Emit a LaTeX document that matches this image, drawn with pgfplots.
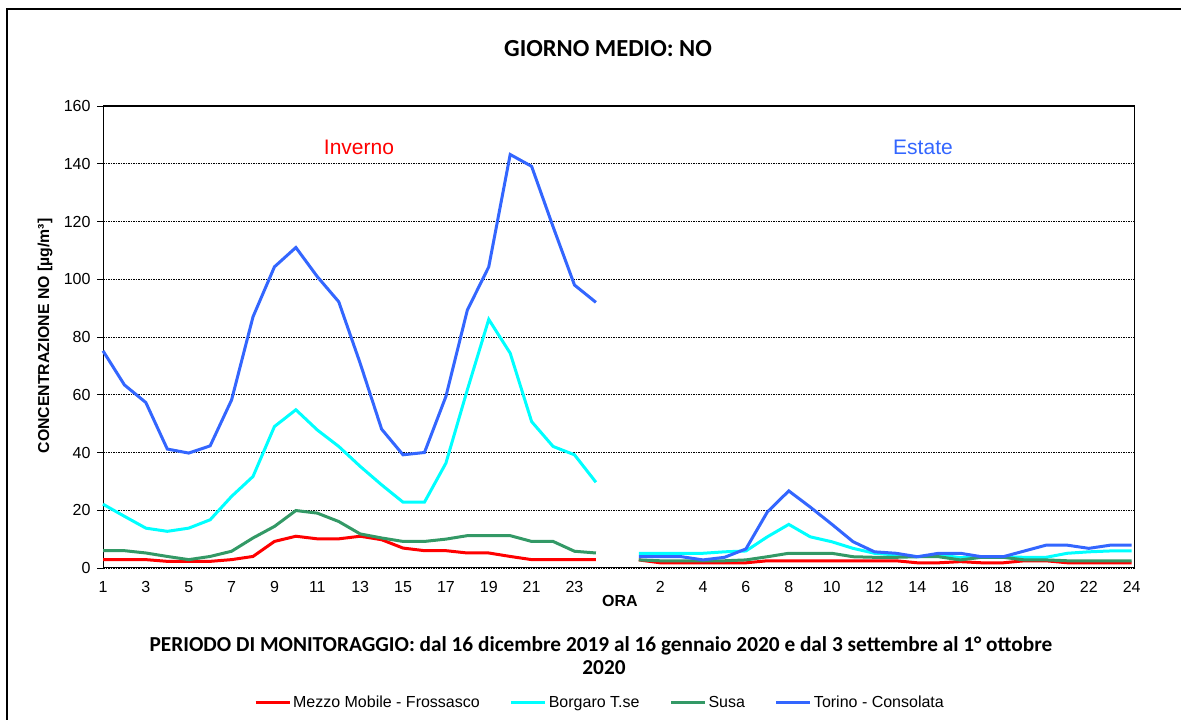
\documentclass[border=0pt]{standalone}
\usepackage{pgfplots}
\pgfplotsset{compat=1.18}
\usepackage{fontspec}
\setmainfont{Liberation Sans}
\newfontfamily\calfont{Carlito}
\definecolor{cRed}{RGB}{255,0,0}
\definecolor{cCyan}{RGB}{0,255,255}
\definecolor{cGreen}{RGB}{51,153,102}
\definecolor{cBlue}{RGB}{51,102,255}
\begin{document}
\begin{tikzpicture}
\path[use as bounding box] (0pt,0pt) rectangle (1181pt,720pt);
\draw[black, line width=1.2pt] (7pt,-20pt) -- (7pt,711pt) -- (1200pt,711pt);
\begin{axis}[
  at={(103pt,152pt)}, anchor=south west,
  width=1031.7pt, height=462pt, scale only axis,
  xmin=0, xmax=48.14, ymin=0, ymax=160,
  ytick={0,20,...,160},
  xtick={0,2,...,48},
  xticklabels={1,3,5,7,9,11,13,15,17,19,21,23,{},2,4,6,8,10,12,14,16,18,20,22,24},
  x tick style={draw=none},
  y tick style={black, line width=0.8pt},
  ytick pos=left, xtick pos=bottom,
  tick align=outside,
  major tick length=6pt,
  ymajorgrids,
  grid style={black, line width=0.6pt, dash pattern=on 1.5pt off 1pt},
  axis line style={black, line width=1pt},
  tick label style={font=\fontsize{16}{19}\selectfont, text=black},
  /pgf/number format/assume math mode=true,
  yticklabel style={xshift=-3pt},
  xticklabel style={yshift=-4pt},
  unbounded coords=jump,
  clip=false,
  legend style={at={(axis description cs:0.4817,-0.292)}, anchor=center, draw=none, fill=none,
    font=\fontsize{16}{19}\selectfont, legend columns=4,
    /tikz/every even column/.append style={column sep=28pt}},
  legend image code/.code={\draw[#1, line width=3pt] (0pt,0pt) -- (34pt,0pt);},
]
\addplot[cRed, line width=3pt] coordinates {
(0,2.9)(1,2.9)(2,2.9)(3,2.3)(4,2.3)(5,2.3)(6,2.9)(7,4.0)(8,9.2)(9,11.0)(10,10.1)(11,10.1)
(12,11.0)(13,9.8)(14,6.9)(15,6.0)(16,6.0)(17,5.2)(18,5.2)(19,4.0)(20,2.9)(21,2.9)(22,2.9)(23,2.9)
(24,nan)
(25,2.8)(26,1.8)(27,1.8)(28,1.8)(29,1.8)(30,1.8)(31,2.5)(32,2.5)(33,2.5)(34,2.5)(35,2.5)(36,2.5)
(37,2.5)(38,1.8)(39,1.8)(40,2.2)(41,1.8)(42,1.8)(43,2.5)(44,2.5)(45,1.8)(46,1.8)(47,1.8)(48,1.8)};
\addlegendentry{Mezzo Mobile - Frossasco}
\addplot[cCyan, line width=3pt] coordinates {
(0,22.1)(1,17.9)(2,13.8)(3,12.7)(4,13.8)(5,16.7)(6,24.8)(7,31.7)(8,49.0)(9,54.8)(10,47.8)(11,42.1)
(12,35.2)(13,28.8)(14,22.8)(15,22.8)(16,36.3)(17,61.7)(18,86.1)(19,74.4)(20,50.7)(21,42.1)(22,39.2)(23,29.7)
(24,nan)
(25,5.1)(26,5.1)(27,5.1)(28,5.1)(29,5.6)(30,5.9)(31,10.8)(32,15.1)(33,10.8)(34,9.1)(35,6.8)(36,5.1)
(37,4.5)(38,3.9)(39,4.5)(40,3.6)(41,3.9)(42,3.9)(43,3.7)(44,3.7)(45,5.1)(46,5.6)(47,5.9)(48,5.9)};
\addlegendentry{Borgaro T.se}
\addplot[cGreen, line width=3pt] coordinates {
(0,6.0)(1,6.0)(2,5.2)(3,4.0)(4,2.9)(5,4.0)(6,5.8)(7,10.4)(8,14.4)(9,19.9)(10,19.0)(11,16.1)
(12,11.8)(13,10.4)(14,9.2)(15,9.2)(16,10.0)(17,11.2)(18,11.2)(19,11.2)(20,9.2)(21,9.2)(22,5.8)(23,5.2)
(24,nan)
(25,2.8)(26,2.5)(27,2.5)(28,2.5)(29,2.5)(30,2.8)(31,3.9)(32,5.1)(33,5.1)(34,5.1)(35,3.9)(36,3.7)
(37,3.7)(38,3.9)(39,3.9)(40,2.8)(41,3.7)(42,3.7)(43,2.8)(44,2.8)(45,2.5)(46,2.5)(47,2.5)(48,2.5)};
\addlegendentry{Susa}
\addplot[cBlue, line width=3pt] coordinates {
(0,75.2)(1,63.4)(2,57.3)(3,41.2)(4,39.8)(5,42.3)(6,58.2)(7,87.0)(8,104.3)(9,111.0)(10,100.9)(11,92.2)
(12,70.9)(13,48.1)(14,39.2)(15,40.0)(16,59.4)(17,89.3)(18,104.3)(19,143.2)(20,139.1)(21,118.2)(22,98.0)(23,92.0)
(24,nan)
(25,3.9)(26,3.9)(27,3.9)(28,2.8)(29,3.7)(30,6.6)(31,19.4)(32,26.7)(33,21.1)(34,15.2)(35,9.1)(36,5.6)
(37,5.1)(38,3.9)(39,5.1)(40,5.1)(41,3.9)(42,3.9)(43,5.9)(44,7.9)(45,7.9)(46,6.8)(47,7.9)(48,7.9)};
\addlegendentry{Torino - Consolata}
\draw[black, line width=1.5pt] (rel axis cs:0,1) -- (rel axis cs:1,1) -- (rel axis cs:1,0);
\end{axis}
\node[font=\calfont\bfseries\fontsize{24.5}{29}\selectfont] at (608pt,671pt) {GIORNO MEDIO: NO};
\node[font=\fontsize{21}{25}\selectfont, text=cRed] at (359pt,573pt) {Inverno};
\node[font=\fontsize{21}{25}\selectfont, text=cBlue] at (923pt,573pt) {Estate};
\node[font=\bfseries\fontsize{15.8}{19}\selectfont, rotate=90] at (45pt,384pt) {CONCENTRAZIONE NO [µg/m³]};
\node[font=\bfseries\fontsize{16}{19}\selectfont] at (620pt,119pt) {ORA};
\node[font=\calfont\bfseries\fontsize{21.3}{25}\selectfont] at (601pt,74pt) {PERIODO DI MONITORAGGIO: dal 16 dicembre 2019 al 16 gennaio 2020 e dal 3 settembre al 1° ottobre};
\node[font=\calfont\bfseries\fontsize{21.3}{25}\selectfont] at (604pt,52pt) {2020};
\end{tikzpicture}
\end{document}
